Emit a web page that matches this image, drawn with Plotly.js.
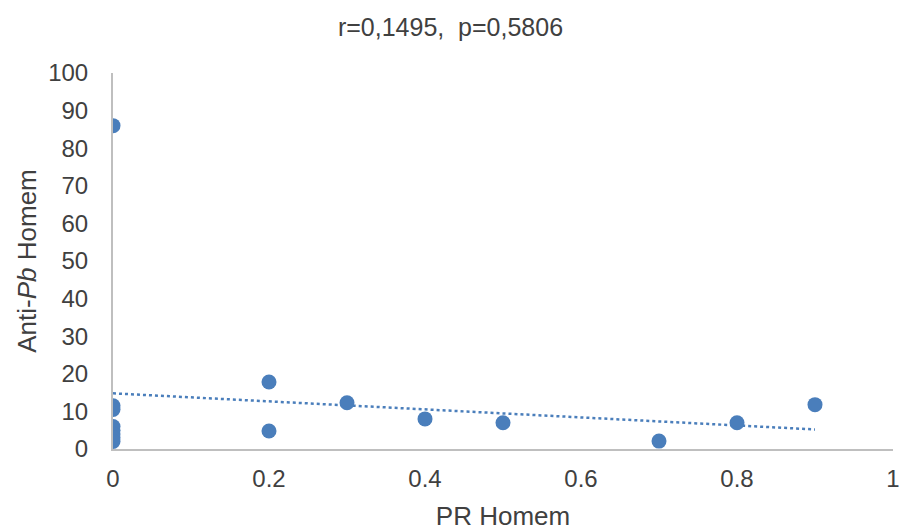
<!DOCTYPE html>
<html>
<head>
<meta charset="utf-8">
<script src="https://cdn.plot.ly/plotly-3.0.1.min.js"></script>
<style>html,body{margin:0;padding:0;background:#fff}#chart{width:901px;height:531px}</style>
</head>
<body>
<div id="chart"></div>
<script>
const prHomem = [0, 0, 0, 0, 0, 0, 0, 0, 0.2, 0.2, 0.3, 0.4, 0.5, 0.7, 0.8, 0.9];
const antiPbHomem = [86, 11.5, 10.5, 6, 5, 4, 3, 2, 17.8, 4.8, 12.3, 8, 7, 2.1, 7, 11.8];
const trendX = [0, 0.9];
const trendY = [14.8, 5.2];
const xTicks = [0, 0.2, 0.4, 0.6, 0.8, 1];
const xTickLabels = ['0', '0.2', '0.4', '0.6', '0.8', '1'];
const yTicks = [0, 10, 20, 30, 40, 50, 60, 70, 80, 90, 100];

const font = 'Liberation Sans, Arial, sans-serif';
const data = [
  {x: trendX, y: trendY, mode: 'lines', type: 'scatter',
   line: {color: '#4a7ebb', width: 2.5, dash: 'dot'}, hoverinfo: 'skip'},
  {x: prHomem, y: antiPbHomem, mode: 'markers', type: 'scatter',
   marker: {color: '#4a7ebb', size: 15}}
];
const layout = {
  width: 901, height: 531,
  margin: {l: 113, r: 8, t: 73, b: 82},
  showlegend: false,
  paper_bgcolor: '#fff', plot_bgcolor: '#fff',
  font: {family: font, color: '#404040', size: 24},
  title: {text: 'r=0,1495,  p=0,5806', x: 0.5, xanchor: 'center', y: 0.949, yanchor: 'middle',
          font: {family: font, size: 25, color: '#404040'}},
  xaxis: {
    range: [0, 1], tickvals: xTicks, ticktext: xTickLabels,
    showgrid: false, zeroline: false, showline: true, linecolor: '#bfbfbf', linewidth: 2,
    ticks: '', ticklabelstandoff: 7,
    tickfont: {family: font, size: 24, color: '#404040'},
    title: {text: 'PR Homem', standoff: 16, font: {family: font, size: 26, color: '#404040'}}
  },
  yaxis: {
    range: [0, 100], tickvals: yTicks,
    showgrid: false, zeroline: false, showline: true, linecolor: '#bfbfbf', linewidth: 2,
    ticks: '', ticklabelstandoff: 18,
    tickfont: {family: font, size: 24, color: '#404040'},
    title: {text: 'Anti-<i>Pb</i> Homem', standoff: 4, font: {family: font, size: 26, color: '#404040'}}
  }
};
Plotly.newPlot('chart', data, layout, {displayModeBar: false, staticPlot: true});
</script>
</body>
</html>
